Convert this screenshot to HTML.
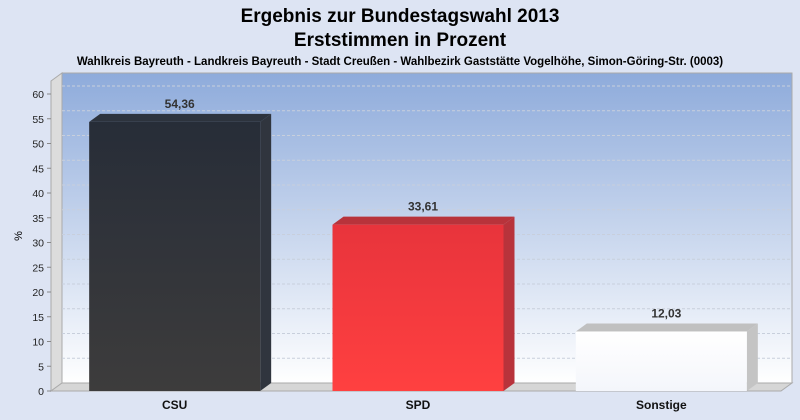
<!DOCTYPE html>
<html><head><meta charset="utf-8"><style>
body{margin:0;background:#dde4f3;}
svg{display:block;font-family:"Liberation Sans",sans-serif;}
</style></head><body>
<svg width="800" height="420" viewBox="0 0 800 420">
<defs>
<linearGradient id="bg" x1="0" y1="0" x2="0" y2="1"><stop offset="0" stop-color="#8eabdb"/><stop offset="1" stop-color="#ffffff"/></linearGradient>
<linearGradient id="csu" x1="0" y1="0" x2="0" y2="1"><stop offset="0" stop-color="#272d38"/><stop offset="1" stop-color="#3d3c3c"/></linearGradient>
<linearGradient id="spd" x1="0" y1="0" x2="0" y2="1"><stop offset="0" stop-color="#e8343c"/><stop offset="1" stop-color="#ff4040"/></linearGradient>
<linearGradient id="son" x1="0" y1="0" x2="0" y2="1"><stop offset="0" stop-color="#ffffff"/><stop offset="1" stop-color="#f4f6fb"/></linearGradient>
</defs>
<text x="400" y="22" text-anchor="middle" font-size="19" font-weight="bold">Ergebnis zur Bundestagswahl 2013</text>
<text x="400" y="46" text-anchor="middle" font-size="19" font-weight="bold">Erststimmen in Prozent</text>
<text x="400" y="65" text-anchor="middle" font-size="11.5" font-weight="bold">Wahlkreis Bayreuth - Landkreis Bayreuth - Stadt Creußen - Wahlbezirk Gaststätte Vogelhöhe, Simon-Göring-Str. (0003)</text>
<text x="22" y="236" text-anchor="middle" font-size="11" transform="rotate(-90 22 236)">%</text>
<g id="plot"></g>
</svg>
<script>
const categories=["CSU","SPD","Sonstige"];
const values=[54.36,33.61,12.03];
const valueLabels=["54,36","33,61","12,03"];
const yTicks=[0,5,10,15,20,25,30,35,40,45,50,55,60];
const fills=["url(#csu)","url(#spd)","url(#son)"];
const tops=["#2d333d","#b8333b","#c0c0c0"];
const sides=["#30353e","#b8333b","#c4c4c4"];
const NS="http://www.w3.org/2000/svg";
const g=document.getElementById('plot');
const x0=62,x1=792,y0=391,dx=11,dy=8,ppu=4.95;
const y=v=>y0-v*ppu;
function el(t,a,p){const e=document.createElementNS(NS,t);for(const k in a)e.setAttribute(k,a[k]);(p||g).appendChild(e);return e;}
let e;
e=el('rect',{x:x0,y:y(60)-dy-13,width:x1-x0,height:y0-dy-(y(60)-dy-13),fill:'url(#bg)',stroke:'#aaa'});


e=el('polygon',{points:`${x0-dx},${y(60)-13+dy-dy} ${x0},${y(60)-dy-13} ${x0},${y0-dy} ${x0-dx},${y0}`,fill:'#dcdcdc',stroke:'#aaa'});


e=el('polygon',{points:`${x0-dx},${y0} ${x0},${y0-dy} ${x1},${y0-dy} ${x1-dx},${y0}`,fill:'#d6d6d6',stroke:'#aaa'});


yTicks.forEach(t=>{
  if(t>0){e=el('line',{x1:x0,x2:x1,y1:y(t)-dy,y2:y(t)-dy,stroke:'#c8cfdc','stroke-dasharray':'3,2'});
  
  }
  e=el('line',{x1:x0-dx-4,x2:x0-dx,y1:y(t),y2:y(t),stroke:'#888'});
  
  
  e=el('text',{x:x0-dx-7,y:y(t)+4,'text-anchor':'end','font-size':'10.5',fill:'#222'});
  e.textContent=t;
  
  
});
const slot=(x1-dx-(x0-dx))/categories.length, bw=171;
categories.forEach((c,i)=>{
  const cx=x0-dx+slot*(i+0.5)+2, bx=cx-bw/2, by=y(values[i]);
  e=el('polygon',{points:`${bx+bw},${by} ${bx+bw+dx},${by-dy} ${bx+bw+dx},${y0-dy} ${bx+bw},${y0}`,fill:sides[i]});
  
  
  e=el('polygon',{points:`${bx},${by} ${bx+dx},${by-dy} ${bx+bw+dx},${by-dy} ${bx+bw},${by}`,fill:tops[i]});
  
  
  e=el('rect',{x:bx,y:by,width:bw,height:y0-by,fill:fills[i]});
  
  
  e=el('text',{x:cx+5,y:by-dy-6,'text-anchor':'middle','font-size':'12','font-weight':'bold',fill:'#333'});
  e.textContent=valueLabels[i];
  
  
  e=el('text',{x:cx,y:409,'text-anchor':'middle','font-size':'12','font-weight':'bold',fill:'#111'});
  e.textContent=c;
  
  
});
</script>
</body></html>
